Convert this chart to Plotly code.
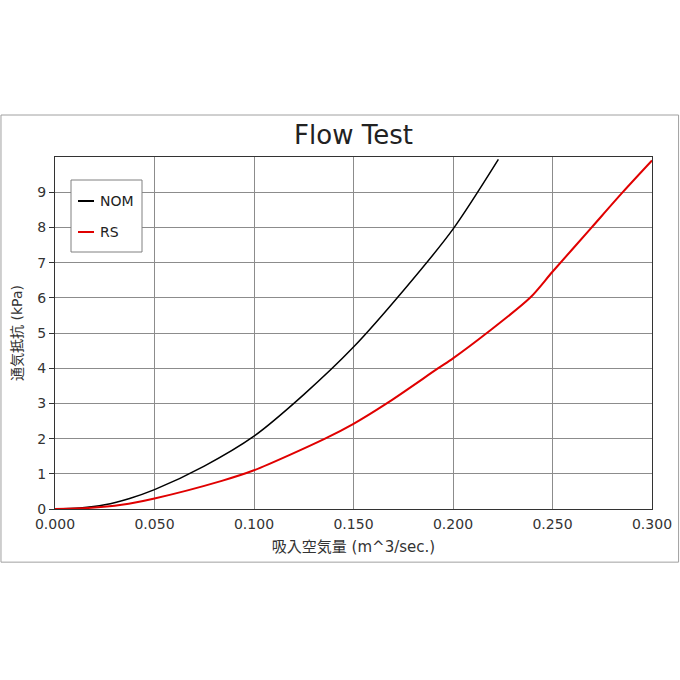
import plotly.graph_objects as go

series_names = ["NOM", "RS"]
series_colors = ["#000000", "#e00000"]

nom_x = [0.0, 0.0125, 0.025, 0.0375, 0.05, 0.075, 0.1, 0.125, 0.15, 0.175, 0.2, 0.2228]
nom_y = [0.0, 0.03, 0.12, 0.3, 0.55, 1.22, 2.07, 3.25, 4.6, 6.2, 7.95, 9.93]

rs_x = [0.0, 0.0167, 0.0335, 0.05, 0.0838, 0.1, 0.1357, 0.15, 0.1667, 0.1926, 0.2,
        0.217, 0.2387, 0.25, 0.2697, 0.2853, 0.3]
rs_y = [0.0, 0.03, 0.12, 0.3, 0.8, 1.1, 2.0, 2.42, 3.0, 4.0, 4.28,
        5.0, 6.0, 6.74, 8.0, 9.0, 9.9]

x_ticks = [0.0, 0.05, 0.1, 0.15, 0.2, 0.25, 0.3]
x_tick_labels = ["0.000", "0.050", "0.100", "0.150", "0.200", "0.250", "0.300"]
y_ticks = [0, 1, 2, 3, 4, 5, 6, 7, 8, 9]

title_text = "Flow Test"
x_title = "吸入空気量 (m^3/sec.)"
y_title = "通気抵抗 (kPa)"

FONT = "DejaVu Sans, Noto Sans CJK JP, sans-serif"

fig = go.Figure()
fig.add_trace(go.Scatter(x=nom_x, y=nom_y, mode="lines", name=series_names[0],
                         line=dict(color=series_colors[0], width=1.5, shape="spline", smoothing=0.8),
                         showlegend=False))
fig.add_trace(go.Scatter(x=rs_x, y=rs_y, mode="lines", name=series_names[1],
                         line=dict(color=series_colors[1], width=2, shape="spline", smoothing=0.8),
                         showlegend=False))

# Outer frame
fig.add_shape(type="rect", xref="paper", yref="paper",
              x0=-0.0905, x1=1.0445, y0=-0.151, y1=1.1193,
              line=dict(color="#a0a0a0", width=1), fillcolor="rgba(0,0,0,0)", layer="below")

# Manual legend box
lx0, lx1 = (71 - 55) / 597, (142 - 55) / 597
ly0, ly1 = (509 - 252) / 352, (509 - 180) / 352
fig.add_shape(type="rect", xref="paper", yref="paper", x0=lx0, x1=lx1, y0=ly0, y1=ly1,
              line=dict(color="#808080", width=1), fillcolor="white", layer="above")
for i, (name, col) in enumerate(zip(series_names, series_colors)):
    py = 201 + 31 * i
    yp = (509 - py) / 352
    fig.add_shape(type="line", xref="paper", yref="paper",
                  x0=(78 - 55) / 597, x1=(94 - 55) / 597, y0=yp, y1=yp,
                  line=dict(color=col, width=2), layer="above")
    fig.add_annotation(xref="paper", yref="paper", x=(98 - 55) / 597, y=yp,
                       text=name, showarrow=False, xanchor="left", yanchor="middle",
                       font=dict(family=FONT, size=14, color="#222222"))

fig.update_layout(
    width=680, height=680,
    margin=dict(l=55, r=28, t=157, b=171, pad=0),
    paper_bgcolor="white", plot_bgcolor="white",
    title=dict(text=title_text, x=(353.5) / 680, xanchor="center",
               y=1 - 135 / 680, yanchor="middle",
               font=dict(family=FONT, size=26, color="#222222")),
    font=dict(family=FONT, size=14, color="#333333"),
    xaxis=dict(range=[0, 0.3], tickvals=x_ticks, ticktext=x_tick_labels,
               showgrid=True, gridcolor="#8c8c8c", gridwidth=1,
               showline=True, linecolor="#333333", linewidth=1, mirror=True,
               ticks="", zeroline=False, automargin=False, ticklabelstandoff=2,
               tickfont=dict(family=FONT, size=14, color="#333333"),
               title=dict(text=x_title, standoff=10,
                          font=dict(family=FONT, size=15, color="#333333"))),
    yaxis=dict(range=[0, 10], tickvals=y_ticks,
               showgrid=True, gridcolor="#8c8c8c", gridwidth=1,
               showline=True, linecolor="#333333", linewidth=1, mirror=True,
               ticks="outside", ticklen=5, tickcolor="#333333", zeroline=False,
               automargin=False,
               tickfont=dict(family=FONT, size=14, color="#333333"),
               title=dict(text=y_title, standoff=11,
                          font=dict(family=FONT, size=14, color="#333333"))),
)

fig.write_html("out.html", config={"displayModeBar": False},
               post_script="document.body.style.margin='0';")
